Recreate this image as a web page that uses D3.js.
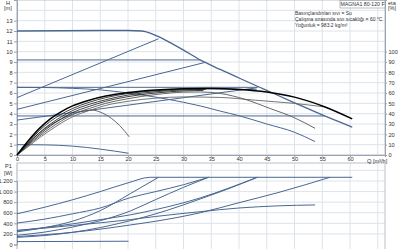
<!DOCTYPE html>
<html>
<head>
<meta charset="utf-8">
<script src="https://cdn.jsdelivr.net/npm/d3@7"></script>
<style>
  html, body { margin: 0; padding: 0; background: #fff; }
  svg text { font-family: "Liberation Sans", Arial, sans-serif; fill: #333; }
</style>
</head>
<body>
<div id="chart"></div>
<script>
// --- data (Q in m³/h) ---
const qTicks = [0, 5, 10, 15, 20, 25, 30, 35, 40, 45, 50, 55, 60];
const hTicks = [0, 1, 2, 3, 4, 5, 6, 7, 8, 9, 10, 11, 12, 13];
const etaTicks = [0, 10, 20, 30, 40, 50, 60, 70, 80, 90, 100];
const pTicks = [0, 200, 400, 600, 800, 1000, 1200];
const pTickLabels = ['0', '200', '400', '600', '800', '1.000', '1.200'];
const infoLines = ['Basınçlandırılan sıvı = Su', 'Çalışma sırasında sıvı sıcaklığı = 60 °C', 'Yoğunluk = 983.2 kg/m³'];

// H [m] curves
const hMax = [[0,12],[20,12.05],[22.5,12],[24,11.8],[25.5,11.45],[28,10.75],[30,10.15],[33,9.2],[36.6,8.28],[40,7.45],[45,6.25],[50,5.05],[55,3.88],[60.4,2.7]];
const hCp1 = [[0,9.2],[33,9.2]];
const hCp2 = [[0,6.55],[43.4,6.55]];
const hCp3 = [[0,3.78],[55.5,3.78]];
const hPp1 = [[0,5.55],[25.5,11.25]];
const hPp2 = [[0,4.42],[33.8,8.95]];
const hPp3 = [[0,3.38],[43.2,6.5]];
const hSpeed = [[0,6.55],[5,6.53],[10,6.45],[15,6.3],[20,6.0],[25,5.6],[30,5.1],[33,4.75],[36.6,4.25],[40,3.8],[45,3.0],[50,2.2],[53.7,1.3]];
const hMin = [[0,1.0],[5,0.98],[10,0.86],[15,0.57],[20.1,0.17]];

// eta [%] curves (right axis)
const etaMain = [[0,0],[2,13.5],[4,25.5],[6,35],[8,42],[10,47.5],[13,53],[16,57],[20,60.5],[25,63],[30,64.2],[35,64.4],[40,63.5],[45,61],[50,56],[55.5,46.5],[60.4,35]];
const eta2 = [[0,0],[2,12],[4,23.5],[6,32.5],[8,39.5],[10,45],[13,51],[16,55.5],[20,59.5],[25,62.2],[30,63.8],[35,64.2],[43.2,63]];
const eta3 = [[0,0],[2,11],[4,21.5],[6,30],[8,37],[10,43],[13,49],[16,53.5],[20,58],[25,61.2],[30,63],[34,63.5]];
const eta4 = [[0,0],[2,10],[4,19.5],[6,28],[8,35],[10,41],[13,47],[16,52],[20,56.5],[25,60],[30,62],[33.6,62.5]];
const eta5 = [[0,0],[2,9],[4,18],[6,26],[8,33],[10,39],[13,45],[16,50],[20,54.5],[25,58.5],[30,60.8],[33,61],[36.6,59.6],[41,54],[45.6,45],[50,36],[53.7,25.8]];
const eta6 = [[0,0],[2,8],[4,16.5],[6,24],[8,31],[10,37],[13,43],[16,48],[20,52],[25,55],[30,56.2],[36.6,55.7],[43,53],[49.8,50],[55.2,46.7]];
const etaMin = [[0,0],[2,11.5],[4,21],[6,29],[8,35],[10,39.5],[12,42.5],[13.5,43.5],[15,41.5],[17,35.5],[18.5,28.5],[20.2,17.7]];

// P1 [W] curves
const pMax = [[0,580],[5,705],[10,845],[15,1000],[20,1165],[24,1270],[60.4,1270]];
const pPp1 = [[0,240],[5,320],[10,440],[15,640],[20.4,960],[25.5,1270]];
const pCp1 = [[0,405],[5,480],[10,580],[15,690],[20.4,885],[25,1000],[30,1130],[34.5,1270]];
const pPp2 = [[0,175],[5,235],[10,330],[15,450],[20.4,633],[25,850],[30,1080],[34.5,1270]];
const pCp2 = [[0,265],[5,320],[10,390],[15,470],[20.4,560],[25,660],[33,880],[38,1060],[43.3,1270]];
const pPp3 = [[0,135],[5,170],[10,230],[15,320],[20.4,450],[25,580],[33,860],[38,1050],[43.3,1270]];
const pSpeed = [[0,265],[5,310],[10,360],[15,410],[20.4,470],[25,530],[33,620],[40,690],[47,730],[53.7,748]];
const pCp3 = [[0,150],[5,185],[10,230],[15,290],[20.4,369],[25,440],[33,600],[40,790],[47,980],[56.4,1270]];
const pMin = [[0,55],[10,58],[20.1,62]];

const W = 400, H = 249;
const blue = '#4a6792';
const grid = '#dde3ea';

const svg = d3.select('#chart').append('svg')
    .attr('width', W).attr('height', H);

const x = d3.scaleLinear().domain([0, 66.3]).range([17, 385]);
const yH = d3.scaleLinear().domain([0, 15]).range([155, 0]);
const yEta = d3.scaleLinear().domain([0, 150]).range([155, 0]);
const yP = d3.scaleLinear().domain([0, 1200]).range([244.5, 181]);

// grids
const gridQ = d3.range(0, 66, 5);
function vGrid(y0, y1) {
    svg.append('g').selectAll('line').data(gridQ).join('line')
        .attr('x1', d => x(d)).attr('x2', d => x(d))
        .attr('y1', y0).attr('y2', y1)
        .attr('stroke', grid).attr('stroke-width', 1);
}
vGrid(0, 155);
vGrid(163, 249);

svg.append('g').selectAll('line').data(d3.range(1, 15)).join('line')
    .attr('x1', x(0)).attr('x2', 385)
    .attr('y1', d => yH(d)).attr('y2', d => yH(d))
    .attr('stroke', grid);
svg.append('g').selectAll('line').data(d3.range(200, 1600, 200)).join('line')
    .attr('x1', x(0)).attr('x2', 385)
    .attr('y1', d => yP(d)).attr('y2', d => yP(d))
    .attr('stroke', grid);

// frames
svg.append('rect').attr('x', x(0)).attr('y', 0).attr('width', 385 - x(0)).attr('height', 155)
    .attr('fill', 'none').attr('stroke', '#b9c0c8');
svg.append('rect').attr('x', x(0)).attr('y', 163).attr('width', 385 - x(0)).attr('height', 90)
    .attr('fill', 'none').attr('stroke', '#b9c0c8');

// axes
const fs = '5.6px';
const axH = svg.append('g').attr('transform', `translate(${x(0)},0)`)
    .call(d3.axisLeft(yH).tickValues(hTicks).tickSize(3).tickPadding(1.5));
const axEta = svg.append('g').attr('transform', 'translate(385,0)')
    .call(d3.axisRight(yEta).tickValues(etaTicks).tickSize(2).tickPadding(1.5));
const axQ = svg.append('g').attr('transform', 'translate(0,155)')
    .call(d3.axisBottom(x).tickValues(qTicks).tickSize(2).tickPadding(0.5));
const axP = svg.append('g').attr('transform', `translate(${x(0)},0)`)
    .call(d3.axisLeft(yP).tickValues(pTicks).tickFormat((d, i) => pTickLabels[i]).tickSize(3).tickPadding(1.5));
[axH, axEta, axQ, axP].forEach(a => {
    a.select('.domain').attr('stroke', '#9aa3ad');
    a.selectAll('.tick line').attr('stroke', '#9aa3ad');
    a.selectAll('text').style('font-size', fs).attr('fill', '#333');
});

// axis titles
svg.append('text').attr('x', 6).attr('y', 5).style('font-size', fs).text('H');
svg.append('text').attr('x', 4).attr('y', 10).style('font-size', fs).text('[m]');
svg.append('text').attr('x', 388).attr('y', 5).style('font-size', fs).text('eta');
svg.append('text').attr('x', 388).attr('y', 10).style('font-size', fs).text('[%]');
svg.append('text').attr('x', 367).attr('y', 163).style('font-size', fs).text('Q [m³/h]');
svg.append('text').attr('x', 5).attr('y', 168).style('font-size', fs).text('P1');
svg.append('text').attr('x', 4).attr('y', 175).style('font-size', fs).text('[W]');

// title box and info
svg.append('rect').attr('x', 340).attr('y', 0.5).attr('width', 45).attr('height', 7.5)
    .attr('fill', '#fff').attr('stroke', '#8a939c').attr('stroke-width', 0.6);
svg.append('text').attr('x', 362.5).attr('y', 6.3).attr('text-anchor', 'middle')
    .style('font-size', '5.2px').text('MAGNA1 80-120 F');
svg.append('g').selectAll('text').data(infoLines).join('text')
    .attr('x', 295).attr('y', (d, i) => 14.5 + i * 6.3)
    .style('font-size', '5px').text(d => d);

// curves
const lineH = d3.line().x(d => x(d[0])).y(d => yH(d[1])).curve(d3.curveMonotoneX);
const lineEta = d3.line().x(d => x(d[0])).y(d => yEta(d[1])).curve(d3.curveMonotoneX);
const lineP = d3.line().x(d => x(d[0])).y(d => yP(d[1])).curve(d3.curveMonotoneX);

function draw(gen, data, color, width) {
    svg.append('path').datum(data).attr('d', gen)
        .attr('fill', 'none').attr('stroke', color).attr('stroke-width', width)
        .attr('stroke-linejoin', 'round');
}

[hCp1, hCp2, hCp3, hPp1, hPp2, hPp3, hSpeed, hMin].forEach(d => draw(lineH, d, blue, 1));
draw(lineH, hMax, blue, 1.3);

draw(lineEta, etaMin, '#555', 0.9);
draw(lineEta, eta6, '#666', 0.9);
draw(lineEta, eta5, '#555', 0.9);
[eta4, eta3, eta2].forEach(d => draw(lineEta, d, '#111', 0.8));
draw(lineEta, etaMain, '#000', 1.5);

[pMax, pPp1, pCp1, pPp2, pCp2, pPp3, pSpeed, pCp3, pMin].forEach(d => draw(lineP, d, blue, 1));
</script>
</body>
</html>
